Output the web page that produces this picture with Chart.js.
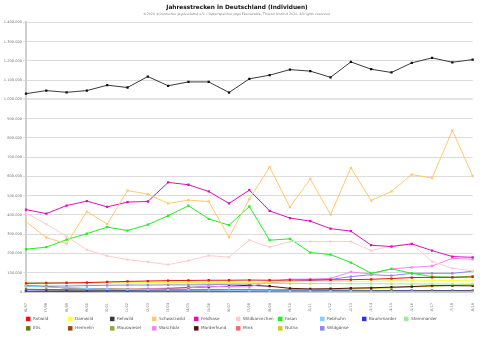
<!DOCTYPE html>
<html>
<head>
<meta charset="utf-8">
<script src="https://cdn.jsdelivr.net/npm/chart.js@4/dist/chart.umd.min.js"></script>
<style>
  body { margin: 0; background: #fff; }
  #wrap { width: 480px; height: 337px; }
</style>
</head>
<body>
<div id="wrap"><canvas id="strecke" width="480" height="337"></canvas></div>
<script>
const jagdjahre = ['1996/97', '1997/98', '1998/99', '1999/00', '2000/01', '2001/02', '2002/03', '2003/04',
  '2004/05', '2005/06', '2006/07', '2007/08', '2008/09', '2009/10', '2010/11', '2011/12', '2012/13',
  '2013/14', '2014/15', '2015/16', '2016/17', '2017/18', '2018/19'];

const yTicks = [0, 100000, 200000, 300000, 400000, 500000, 600000, 700000, 800000, 900000,
  1000000, 1100000, 1200000, 1300000, 1400000];

const rotwild = [45000, 46000, 47000, 49000, 52000, 55000, 57000, 59000, 60000, 61000, 61000, 62000,
  61000, 62000, 63000, 63000, 64000, 66000, 70000, 75000, 76000, 76000, 78000];
const damwild = [43000, 44000, 44000, 46000, 47000, 48000, 48000, 50000, 50000, 50000, 50000, 51000,
  52000, 53000, 54000, 55000, 55000, 56000, 57000, 58000, 59000, 60000, 61000];
const rehwild = [1030000, 1046000, 1037000, 1046000, 1074000, 1062000, 1119000, 1071000, 1091000,
  1091000, 1036000, 1107000, 1126000, 1155000, 1147000, 1115000, 1195000, 1157000, 1140000, 1190000,
  1216000, 1193000, 1207000];
const schwarzwild = [364000, 283000, 251000, 418000, 352000, 527000, 508000, 460000, 477000, 470000,
  285000, 482000, 649000, 441000, 587000, 402000, 645000, 475000, 522000, 610000, 592000, 839000, 602000];
const feldhase = [428000, 407000, 449000, 472000, 442000, 467000, 470000, 569000, 557000, 522000,
  460000, 529000, 421000, 384000, 368000, 329000, 316000, 243000, 236000, 250000, 215000, 184000, 180000];
const wildkaninchen = [410000, 352000, 288000, 219000, 187000, 168000, 156000, 142000, 163000, 189000,
  181000, 269000, 233000, 262000, 262000, 262000, 262000, 215000, 240000, 250000, 158000, 123000, 110000];
const fasan = [222000, 233000, 272000, 303000, 337000, 319000, 350000, 396000, 448000, 380000, 347000,
  444000, 269000, 276000, 205000, 194000, 153000, 97000, 120000, 97000, 80000, 77000, 82000];
const rebhuhn = [30000, 26000, 22000, 18000, 15000, 13000, 12000, 11000, 10000, 9000, 8000, 7000,
  6000, 5000, 5000, 4000, 4000, 3500, 3000, 3000, 2500, 2500, 2500];
const baummarder = [4000, 4000, 4500, 4500, 5000, 5000, 5000, 5000, 5000, 5000, 5000, 5000,
  5000, 5000, 5000, 5000, 5000, 5000, 5000, 5000, 5000, 5000, 5000];
const steinmarder = [50000, 50000, 50000, 49000, 49000, 48000, 48000, 47000, 47000, 46000, 46000, 45000,
  45000, 44000, 44000, 44000, 43000, 43000, 42000, 42000, 42000, 41000, 41000];
const iltis = [14000, 13000, 12000, 11000, 10000, 10000, 10000, 10000, 10000, 9000, 9000, 9000,
  8000, 8000, 8000, 8000, 8000, 7000, 7000, 7000, 6000, 6000, 6000];
const hermelin = [32000, 29000, 20000, 18000, 16000, 15000, 14000, 13000, 12000, 12000, 11000, 11000,
  10000, 10000, 9000, 9000, 9000, 8000, 8000, 7000, 7000, 7000, 7000];
const mauswiesel = [12000, 10000, 8000, 7000, 6000, 5000, 5000, 5000, 5000, 4000, 4000, 4000,
  4000, 4000, 3000, 3000, 3000, 3000, 3000, 3000, 2000, 2000, 2000];
const waschbaer = [3000, 5000, 6000, 9000, 10000, 13000, 18000, 20000, 21000, 30000, 27000, 27000,
  54000, 67000, 67000, 71000, 104000, 94000, 120000, 128000, 135000, 175000, 170000];
const marderhund = [1000, 2000, 3000, 5000, 8000, 10000, 15000, 18000, 24000, 27000, 30000, 35000,
  30000, 19000, 16000, 17000, 20000, 22000, 25000, 28000, 33000, 33000, 32000];
const mink = [500, 600, 700, 800, 900, 1000, 1200, 1300, 1500, 1500, 1600, 1700,
  1800, 2000, 2000, 2000, 2200, 2200, 2300, 2300, 2400, 2400, 2500];
const nutria = [2000, 2500, 3000, 3500, 4000, 4000, 5000, 5500, 6000, 7000, 8000, 9000,
  10000, 11000, 12000, 14000, 17000, 18000, 22000, 26000, 30000, 35000, 40000];
const wildgaense = [30000, 30000, 31000, 33000, 35000, 36000, 36000, 37000, 37000, 38000, 40000, 42000,
  48000, 55000, 60000, 65000, 80000, 90000, 85000, 97000, 97000, 97000, 108000];

const serien = [
  ['Rotwild', rotwild, '#ee1111'],
  ['Damwild', damwild, '#ffff33'],
  ['Rehwild', rehwild, '#3a3a3a'],
  ['Schwarzwild', schwarzwild, '#ffc870'],
  ['Feldhase', feldhase, '#dd11bb'],
  ['Wildkaninchen', wildkaninchen, '#ffcccc'],
  ['Fasan', fasan, '#22ee22'],
  ['Rebhuhn', rebhuhn, '#88ccff'],
  ['Baummarder', baummarder, '#3333dd'],
  ['Steinmarder', steinmarder, '#99ee99'],
  ['Iltis', iltis, '#667711'],
  ['Hermelin', hermelin, '#994411'],
  ['Mauswiesel', mauswiesel, '#99aa33'],
  ['Waschbär', waschbaer, '#ee88ee'],
  ['Marderhund', marderhund, '#551111'],
  ['Mink', mink, '#ff6666'],
  ['Nutria', nutria, '#cccc22'],
  ['Wildgänse', wildgaense, '#8888ee']
];

const tausender = v => String(v).replace(/\B(?=(\d{3})+(?!\d))/g, '.');

// Legende im festen Raster: 10 Einträge oben, 8 unten
const rasterLegende = {
  id: 'rasterLegende',
  afterDraw(chart) {
    const ctx = chart.ctx;
    ctx.save();
    ctx.font = '4.2px "DejaVu Sans"';
    ctx.textBaseline = 'middle';
    chart.data.datasets.forEach((ds, i) => {
      const col = i % 10;
      const row = Math.floor(i / 10);
      const x = 26 + col * 42;
      const y = 318.7 + row * 9.4;
      ctx.fillStyle = ds.borderColor;
      ctx.fillRect(x, y - 2, 4.5, 4.5);
      ctx.fillStyle = '#555';
      ctx.fillText(ds.label, x + 7, y + 0.3);
    });
    ctx.restore();
  }
};

new Chart(document.getElementById('strecke'), {
  type: 'line',
  data: {
    labels: jagdjahre,
    datasets: serien.map(([label, data, farbe]) => ({
      label: label,
      data: data,
      borderColor: farbe,
      backgroundColor: farbe,
      pointBackgroundColor: label === 'Rehwild' ? '#111' : farbe,
      borderWidth: 1,
      pointStyle: 'rect',
      pointRadius: 1.6,
      pointBorderWidth: 0,
      tension: 0,
      fill: false
    }))
  },
  plugins: [rasterLegende],
  options: {
    responsive: false,
    animation: false,
    devicePixelRatio: 1,
    layout: { padding: { left: 0, right: 6, top: 0, bottom: 25 } },
    plugins: {
      legend: { display: false },
      tooltip: { enabled: false },
      title: {
        display: true,
        text: 'Jahresstrecken in Deutschland (Individuen)',
        color: '#111',
        font: { family: 'DejaVu Sans', size: 5.8, weight: 'bold' },
        padding: { top: 4, bottom: 1.5 }
      },
      subtitle: {
        display: true,
        text: '©2020 ©Deutscher Jagdverband e.V. / Datenspeicher Jagd Eberswalde, Thünen Institut 2020. All rights reserved.',
        color: '#888',
        font: { family: 'DejaVu Sans', size: 3.3 },
        padding: { top: 0, bottom: 6 }
      }
    },
    scales: {
      x: {
        offset: false,
        grid: { display: false },
        border: { color: '#ccc', width: 1 },
        ticks: {
          autoSkip: false,
          minRotation: 90,
          maxRotation: 90,
          padding: 3,
          color: '#777',
          font: { family: 'DejaVu Sans', size: 3.6 }
        },
        afterFit: s => { s.height = 20; }
      },
      y: {
        min: 0,
        max: 1400000,
        afterBuildTicks: s => { s.ticks = yTicks.map(v => ({ value: v })); },
        border: { color: '#cfcfcf', width: 2 },
        grid: {
          color: c => c.tick && c.tick.value === 1000000 ? '#e4e4e4' : '#dcdcdc',
          lineWidth: c => c.tick && c.tick.value === 1000000 ? 2 : 1,
          tickLength: 3
        },
        ticks: {
          color: '#777',
          padding: 1,
          font: { family: 'DejaVu Sans', size: 3.6 },
          callback: v => tausender(v)
        },
        afterFit: s => { s.width = 26; }
      }
    }
  }
});
</script>
</body>
</html>
